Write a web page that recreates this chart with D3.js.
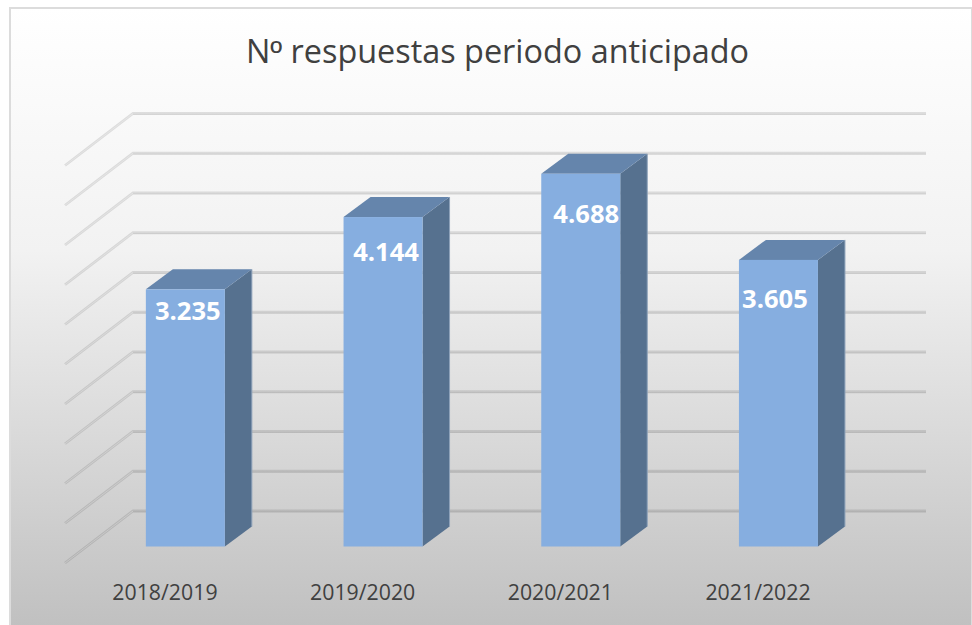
<!DOCTYPE html>
<html><head><meta charset="utf-8">
<script src="https://cdn.jsdelivr.net/npm/d3@7"></script>
<style>html,body{margin:0;padding:0;background:#fff}svg{display:block}</style>
</head><body><svg id="c" width="972" height="625"></svg>
<script>
const titlePrefix = "N";
const titleOrdinal = "º";
const titleRest = " respuestas periodo anticipado";
const categories = ["2018/2019","2019/2020","2020/2021","2021/2022"];
const values = [3235,4144,4688,3605];
const valueLabels = ["3.235","4.144","4.688","3.605"];
const gridValues = [0,500,1000,1500,2000,2500,3000,3500,4000,4500,5000];

const font = "'Open Sans',sans-serif";
const svg = d3.select("#c");
const defs = svg.append("defs");
const g = defs.append("linearGradient").attr("id","bg").attr("x1",0).attr("y1",0).attr("x2",0).attr("y2",1);
g.append("stop").attr("offset","0%").attr("stop-color","#ffffff");
g.append("stop").attr("offset","39%").attr("stop-color","#f2f2f2");
g.append("stop").attr("offset","100%").attr("stop-color","#c0c0c0");
svg.append("rect").attr("x",10).attr("y",8).attr("width",962).attr("height",620)
  .attr("fill","url(#bg)").attr("stroke","#dcdcdc").attr("stroke-width",2);

// scales
const x = d3.scaleBand().domain(categories).range([65,858]).paddingInner(0).paddingOuter(0.0056);
const h = d3.scaleLinear().domain([0,5000]).range([0,397.5]);
const wallDx=68, wallDy=52, floorY=563;
const barDx=27, barDy=20, barW=79, barBaseY=546.5, barShift=20.4;
// per-label placement inside its bar, relative to the bar's top and centre
const labelDx=[2.5,3,5.5,-3.5], labelDy=[31,43.5,49,48];

// gridlines
const grid = svg.append("g").attr("fill","none");
gridValues.forEach(v=>{
  const yF = floorY-h(v), yB = yF-wallDy;
  const x0=x.range()[0], x1=x.range()[1]+wallDx;
  grid.append("path").attr("d",d3.line()([[x0,yF],[x0+wallDx,yB],[x1,yB]])).attr("stroke","rgba(0,0,0,0.11)").attr("stroke-width",2.8);
  grid.append("path").attr("d",d3.line()([[x0,yF],[x0+wallDx,yB]])).attr("stroke","rgba(255,255,255,0.25)").attr("stroke-width",1);
  grid.append("path").attr("d",d3.line()([[x0+wallDx,yB+0.8],[x1,yB+0.8]])).attr("stroke","rgba(0,0,0,0.05)").attr("stroke-width",1);
});

// bars
const bars = svg.append("g").selectAll("g").data(categories).join("g");
bars.each(function(c,i){
  const s=d3.select(this), l=x(c)+x.bandwidth()/2+barShift-barW/2, r=l+barW, t=barBaseY-h(values[i]);
  s.append("path").attr("d",d3.line()([[r,t],[r+barDx,t-barDy],[r+barDx,barBaseY-barDy],[r,barBaseY]])).attr("fill","#56718f");
  s.append("path").attr("d",d3.line()([[l,t],[l+barDx,t-barDy],[r+barDx,t-barDy],[r,t]])).attr("fill","#6585ac");
  s.append("path").attr("d",d3.line()([[r+barDx,t-barDy],[r+barDx,barBaseY-barDy]])).attr("stroke","#8ea2ba").attr("stroke-width",1).attr("fill","none");
  s.append("rect").attr("x",l).attr("y",t).attr("width",barW).attr("height",h(values[i])).attr("fill","#86aee0");
  s.append("text").attr("x",l+barW/2+labelDx[i]).attr("y",t+labelDy[i]).attr("text-anchor","middle")
    .attr("font-family",font).attr("font-weight",700).attr("font-size",25.6).attr("fill","#fff").text(valueLabels[i]);
  svg.append("text").attr("x",x(c)+x.bandwidth()/2).attr("y",599.5).attr("text-anchor","middle")
    .attr("font-family",font).attr("font-size",21.3).attr("fill","#404040").text(c);
});

const title = svg.append("text").attr("x",497.5).attr("y",63).attr("text-anchor","middle")
  .attr("font-family",font).attr("font-size",32.4).attr("fill","#404040");
title.append("tspan").text(titlePrefix);
title.append("tspan").attr("font-family","'Liberation Sans',sans-serif").text(titleOrdinal);
title.append("tspan").text(titleRest);
</script></body></html>
